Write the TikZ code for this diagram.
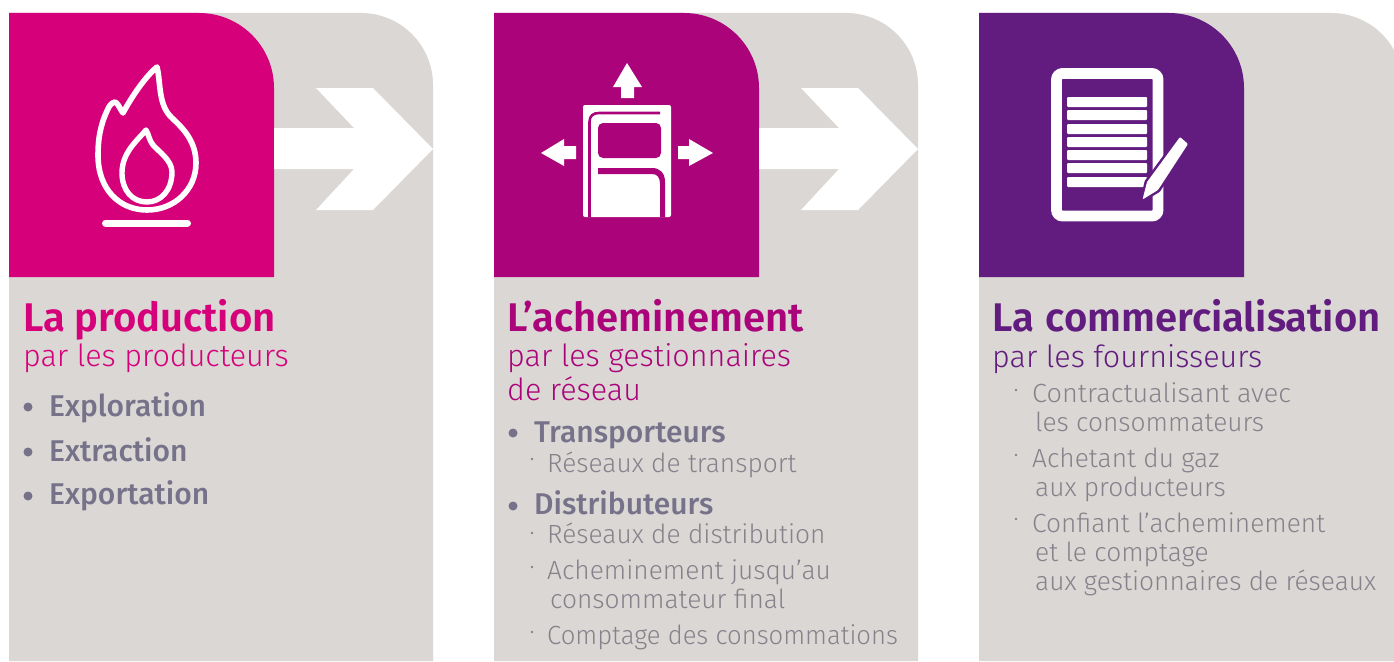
\documentclass[tikz,border=0pt]{standalone}
\usepackage{graphicx}
\usepackage{fontspec}
\setmainfont{Fira Sans Light}[BoldFont=Fira Sans Medium]
\newfontfamily\headfont{Fira Sans SemiBold}
\newfontfamily\boldfont{Fira Sans Medium}
\definecolor{panelgrey}{HTML}{DAD7D4}
\definecolor{cpink}{HTML}{D6007A}
\definecolor{cmag}{HTML}{AB0379}
\definecolor{cpurp}{HTML}{621B7E}
\definecolor{txgrey}{HTML}{85828C}
\definecolor{txbold}{HTML}{75728A}
\tikzset{
 x=1pt,y=-1pt,
 headtxt/.style={anchor=base west,inner sep=0pt,font=\headfont\fontsize{40}{40}\selectfont},
 subtxt/.style={anchor=north west,inner sep=0pt,font=\fontsize{30.5}{34}\selectfont,align=left},
 itemb/.style={anchor=base west,inner sep=0pt,font=\boldfont\fontsize{30}{30}\selectfont,text=txbold},
 iteml/.style={anchor=north west,inner sep=0pt,font=\fontsize{26.3}{29}\selectfont,text=txgrey,align=left},
 dotm/.style={circle,fill=txbold,inner sep=0pt,minimum size=9pt},
 tick/.style={circle,fill=txgrey,inner sep=0pt,minimum size=2.6pt},
 wl/.style={draw=white,line cap=round,line join=round},
}
\newcommand{\fl}{\rule{0pt}{20pt}}
\newcommand{\panel}[2]{%
 \fill[panelgrey] (#1,661) -- (#1,13) -- ({#1+352},13) arc[start angle=90,end angle=0,x radius=72pt,y radius=72pt] -- ({#1+424},661) -- cycle;
 \fill[#2] (#1,277) -- (#1,13) -- ({#1+190},13) arc[start angle=90,end angle=0,x radius=75pt,y radius=75pt] -- ({#1+265},277) -- cycle;
}
\newcommand{\chevron}[1]{%
 \fill[white] ({#1+265},128) -- ({#1+345},128) -- ({#1+307},88) -- ({#1+364},88) -- ({#1+424},149) -- ({#1+364},210) -- ({#1+307},210) -- ({#1+345},169) -- ({#1+265},169) -- cycle;
}
\begin{document}
\begin{tikzpicture}
\useasboundingbox (0,0) rectangle (1394,661);
\clip (0,0) rectangle (1394,661);
\fill[white] (0,0) rectangle (1394,661);
\panel{9}{cpink}\panel{494}{cmag}\panel{979}{cpurp}
\chevron{9}\chevron{494}
% flame
\draw[wl,line width=5.6pt] (157,67) .. controls (146,76) and (132,96) .. (123,113) .. controls (120,109) and (118,103) .. (115,102) .. controls (111,103) and (109,106) .. (107,111) .. controls (100,126) and (98,140) .. (98,155) .. controls (98,190) and (120,210) .. (147,210) .. controls (174,210) and (196,190) .. (196,163) .. controls (196,142) and (184,129) .. (172,118) .. controls (158,105) and (161,84) .. (157,67) -- cycle;
\draw[wl,line width=5.4pt] (146,130) .. controls (138,140) and (122,152) .. (122,173) .. controls (122,190) and (132,202) .. (147,202) .. controls (161,202) and (172,190) .. (172,172) .. controls (172,160) and (158,151) .. (153,145) .. controls (149,140) and (149,135) .. (146,130) -- cycle;
\draw[wl,line width=7pt] (105.5,223) -- (187.5,223);
% network icon
\fill[white,rounded corners=2pt] (583,217) -- (583,105) -- (671,105) -- (671,217) -- cycle;
\draw[cmag,line width=2.6pt] (589.5,217) -- (589.5,122) .. controls (589.5,116) and (593,113) .. (599,113) -- (660,113);
\fill[cmag,rounded corners=5pt] (598,123) rectangle (661,158);
\fill[cmag] (660,217) -- (665,217) -- (665,182) .. controls (665,173) and (660,168) .. (652,168) -- (598,168) -- (598,174) -- (652,174) .. controls (657,174) and (660,177) .. (660,184) -- cycle;
\fill[white] (627,63) -- (642,87) -- (634,87) -- (634,98) -- (621,98) -- (621,87) -- (613,87) -- cycle;
\fill[white] (541,153) -- (564,139) -- (564,146) -- (576,146) -- (576,159) -- (564,159) -- (564,166) -- cycle;
\fill[white] (713,153) -- (689,139) -- (689,146) -- (678,146) -- (678,159) -- (689,159) -- (689,166) -- cycle;
% document icon
\draw[white,line width=10.8pt,rounded corners=6pt] (1056.5,73.5) rectangle (1158,216);
\foreach \yy in {102,115,129,142,155,168,182}{
 \fill[white,rounded corners=1pt] (1067,{\yy-5}) rectangle (1147,{\yy+5});
}
\draw[cpurp,line width=5pt,line join=round] (1143,199) -- (1147,182) -- (1180,137) -- (1188,144) -- (1158,190) -- cycle;
\fill[white,rounded corners=1pt] (1142.5,199.5) -- (1147,182) -- (1180,137) -- (1188,144) -- (1158,190) -- cycle;
% column 1
\node[headtxt,text=cpink] (h1) at (23,331) {La production};
\node[subtxt,text=cpink] (s1) at (23,344) {\fl par les producteurs};
\node[dotm] (b11) at (28,407) {};
\node[itemb] (i11) at (49,416) {Exploration};
\node[dotm] (b12) at (28,452) {};
\node[itemb] (i12) at (49,461) {Extraction};
\node[dotm] (b13) at (28,496) {};
\node[itemb] (i13) at (49,504) {Exportation};
% column 2
\node[headtxt,text=cmag] (h2) at (507,331) {L’acheminement};
\node[subtxt,text=cmag] (s2) at (507,343) {\fl par les gestionnaires\\de réseau};
\node[dotm] (b21) at (513,433) {};
\node[itemb] (i21) at (534,442) {Transporteurs};
\node[tick] (t21) at (532,459) {};
\node[iteml] (l21) at (547,452) {\fl Réseaux de transport};
\node[dotm] (b22) at (513,506) {};
\node[itemb] (i22) at (534,514) {Distributeurs};
\node[tick] (t22) at (532,533) {};
\node[iteml] (l22) at (547,523) {\fl Réseaux de distribution};
\node[tick] (t23) at (532,567) {};
\node[iteml] (l23) at (547,559) {\fl Acheminement jusqu’au\\\hspace*{3pt}consommateur final};
\node[tick] (t24) at (532,632) {};
\node[iteml] (l24) at (547,624) {\fl\scalebox{0.975}[1]{Comptage des consommations}};
% column 3
\node[headtxt,text=cpurp] (h3) at (992,331) {La\hspace{.05em} commercialisation};
\node[subtxt,text=cpurp] (s3) at (992,344) {\fl par les fournisseurs};
\node[tick] (t31) at (1016,390) {};
\node[iteml] (l31) at (1032,382) {\fl\scalebox{1.03}[1]{Contractualisant avec}\\\hspace*{3pt}les consommateurs};
\node[tick] (t32) at (1016,455) {};
\node[iteml] (l32) at (1032,447) {\fl Achetant du gaz\\\hspace*{3pt}aux producteurs};
\node[tick] (t33) at (1016,519) {};
\node[iteml] (l33) at (1032,512) {\fl Confiant l’acheminement\\\hspace*{3pt}et le comptage\\\hspace*{3pt}aux gestionnaires de réseaux};
\end{tikzpicture}
\end{document}
